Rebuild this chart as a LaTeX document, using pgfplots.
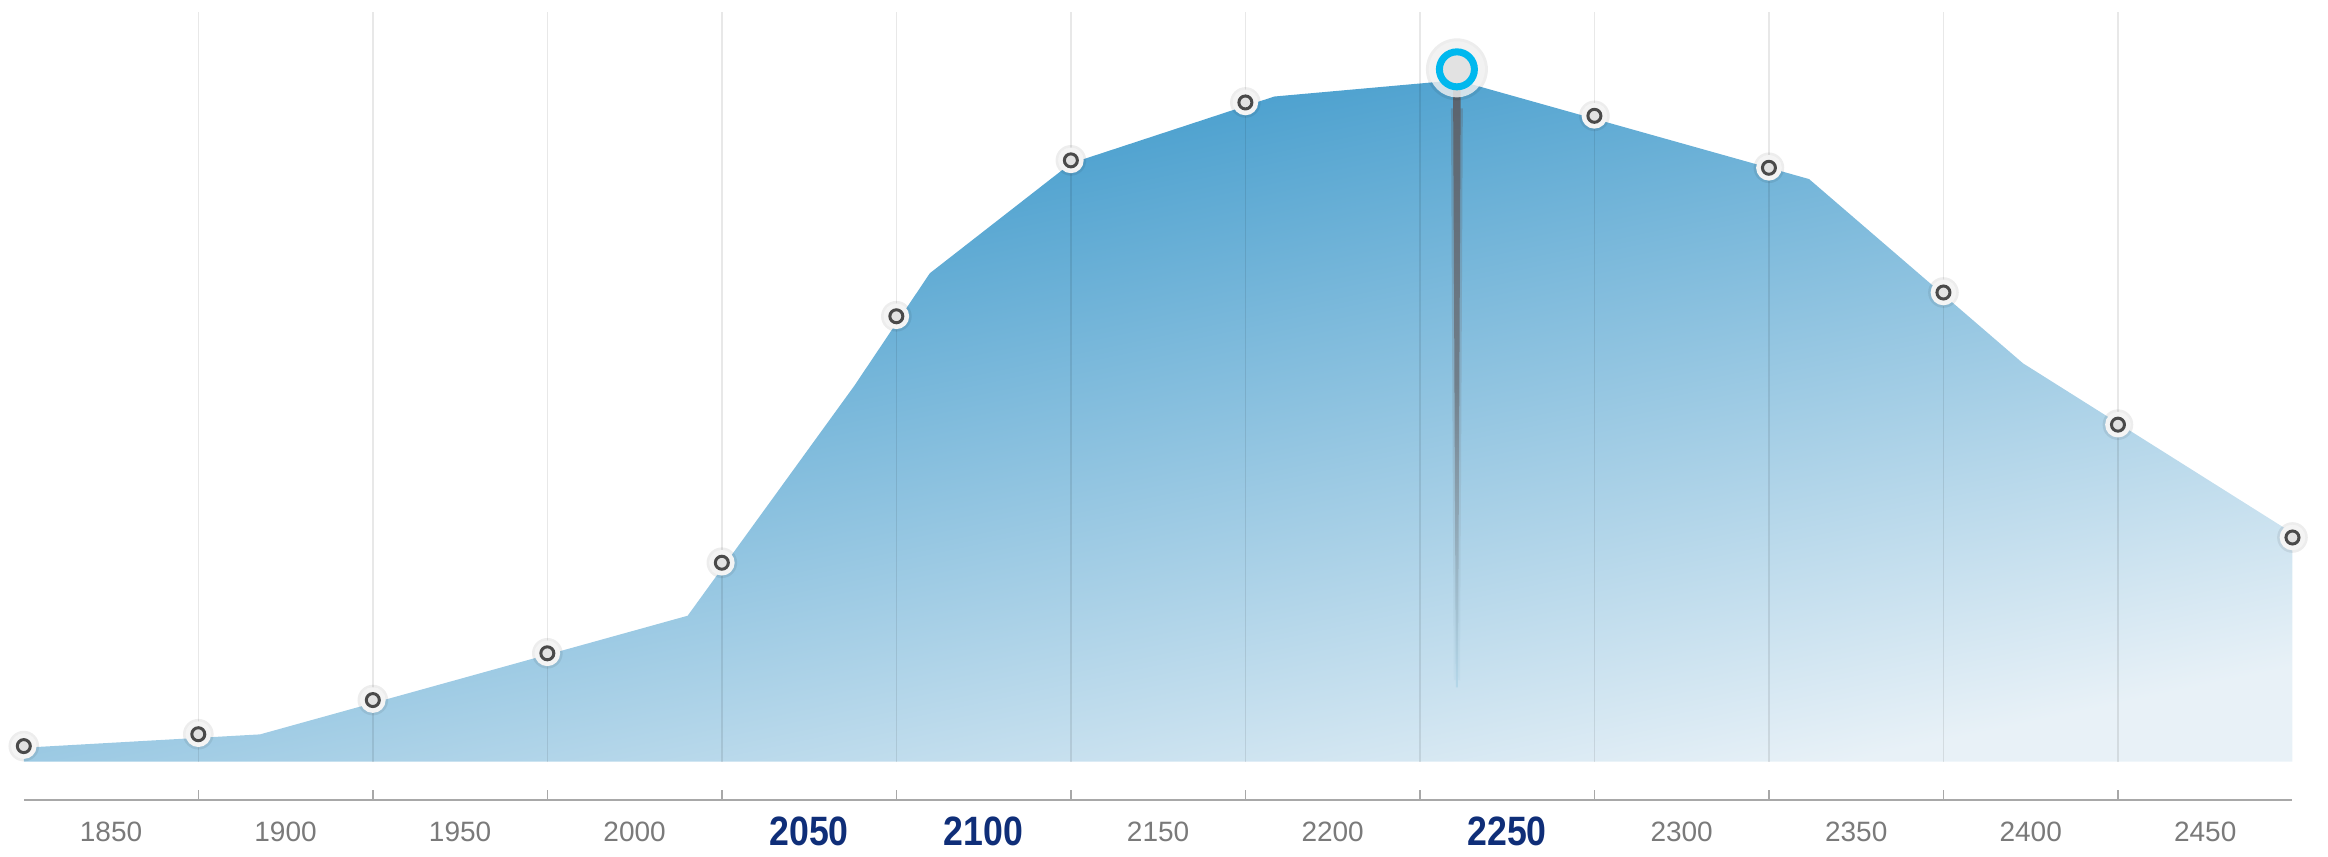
\documentclass[border=0pt]{standalone}
\usepackage{pgfplots}
\usepackage{pgfplotstable}
\pgfplotsset{compat=1.18}
\usepackage{fontspec}
\setmainfont{Liberation Sans}
\newfontfamily\boldnarrow[FakeStretch=0.87]{Liberation Sans Bold}
\definecolor{areatop}{HTML}{2A8FC6}
\definecolor{areabot}{HTML}{E8F1F7}
\definecolor{lblgray}{HTML}{7A7A7A}
\definecolor{lblnavy}{HTML}{0F2E78}
\definecolor{ringdark}{HTML}{4A4A4A}
\definecolor{ringfill}{HTML}{E2E2E2}
\definecolor{halo}{HTML}{F4F4F4}
\definecolor{cyanring}{HTML}{00B8EE}
\definecolor{needle}{HTML}{5A626C}
\definecolor{needlebot}{HTML}{B4D7E9}
\definecolor{axisgray}{HTML}{A8A8A8}
\newcommand\gl[1]{{\fontsize{8.4bp}{10bp}\selectfont\color{lblgray}#1}}
\newcommand\bl[1]{{\boldnarrow\fontsize{12.3bp}{14bp}\selectfont\color{lblnavy}#1}}

\pgfplotstableread{
x y
1825 0
1825 9.4
1892.7 18.4
2015.2 98.3
2062.9 253
2084.6 329
2125 403
2183.3 448
2235.6 459
2336.5 392.4
2397.8 268.3
2475 154
2475 0
}\areadata

\pgfplotstableread{
x y
1825 10.5
1875 18.5
1925 41.5
1975 73
2025 134
2075 300
2125 405
2175 444
2275 435
2325 400
2375 316
2425 227
2475 151
}\markdata

\pgfplotstableread{
x y
2235.6 466.3
}\hidata

\begin{document}
\begin{tikzpicture}
\path[use as bounding box] (0,0) rectangle (698.4bp,256.8bp);
\begin{axis}[
  scale only axis, width=680.6bp, height=240bp,
  at={(7.14bp,16.8bp)}, anchor=south west,
  xmin=1825, xmax=2475, ymin=-25.8, ymax=513,
  axis y line=none, axis x line*=bottom,
  x axis line style={draw=axisgray, line width=0.6bp, -},
  xtick={1875,1925,...,2425}, xticklabels={},
  tick align=inside, major tick length=3bp,
  xtick style={draw=axisgray, line width=0.45bp},
  extra x ticks={1850,1900,...,2450},
  extra x tick labels={\gl{1850},\gl{1900},\gl{1950},\gl{2000},\bl{2050},\bl{2100},\gl{2150},\gl{2200},\bl{2250},\gl{2300},\gl{2350},\gl{2400},\gl{2450}},
  extra x tick style={major tick length=0pt},
  xticklabel style={anchor=center, yshift=-9.5bp, inner sep=0pt},
  clip=false,
  unbounded coords=jump,
]
% area
\addplot[draw=none, top color=areatop, bottom color=areabot, shading angle=12] table {\areadata} -- cycle;
% grid lines
\addplot[black, opacity=0.09, line width=0.45bp] coordinates {
(1875,0) (1875,505) (1900,nan)
(1925,0) (1925,505) (1950,nan)
(1975,0) (1975,505) (2000,nan)
(2025,0) (2025,505) (2050,nan)
(2075,0) (2075,505) (2100,nan)
(2125,0) (2125,505) (2150,nan)
(2175,0) (2175,505) (2200,nan)
(2225,0) (2225,505) (2250,nan)
(2275,0) (2275,505) (2300,nan)
(2325,0) (2325,505) (2350,nan)
(2375,0) (2375,505) (2400,nan)
(2425,0) (2425,505)
};
% needle (soft outer and core)
\addplot[draw=none, fill opacity=0.35, top color=needle, bottom color=needlebot, middle color=needle!60!needlebot] coordinates {(2233.9,440) (2237.3,440) (2236.5,55) (2234.7,55)} -- cycle;
\addplot[draw=none, top color=needle, bottom color=needlebot, middle color=needle!75!needlebot] coordinates {(2234.5,458) (2236.7,458) (2235.9,50) (2235.3,50)} -- cycle;
% markers
\addplot[only marks, mark=*, mark size=4.6bp, mark options={draw opacity=0, fill=black, fill opacity=0.07}] table {\markdata};
\addplot[only marks, mark=*, mark size=3.85bp, mark options={draw opacity=0, fill=halo}] table {\markdata};
\addplot[only marks, mark=*, mark size=1.95bp, mark options={draw=ringdark, line width=0.9bp, fill=ringfill}] table {\markdata};
% highlighted
\addplot[only marks, mark=*, mark size=9.3bp, mark options={draw opacity=0, fill=black, fill opacity=0.07}] table {\hidata};
\addplot[only marks, mark=*, mark size=8.4bp, mark options={draw opacity=0, fill=halo, fill opacity=0.8}] table {\hidata};
\addplot[only marks, mark=*, mark size=5.25bp, mark options={draw=cyanring, line width=2.1bp, fill=ringfill}] table {\hidata};
\end{axis}
\end{tikzpicture}
\end{document}
